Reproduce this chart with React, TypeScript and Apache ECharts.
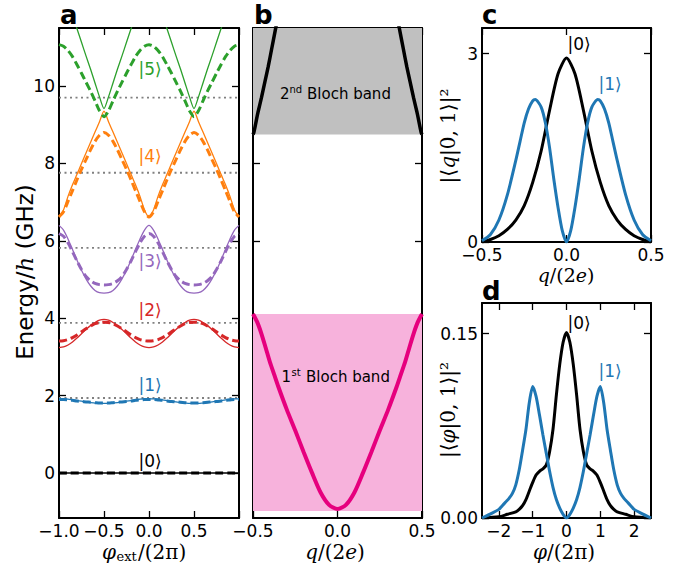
import React, { useEffect, useRef } from 'react';
import * as echarts from 'echarts';

// ---------- Panel a: energy levels vs external flux ----------
const aPhi = [-1, -0.95, -0.9, -0.85, -0.8, -0.75, -0.7, -0.65, -0.6, -0.55, -0.5, -0.45, -0.4, -0.35, -0.3, -0.25, -0.2, -0.15, -0.1, -0.05, 0, 0.05, 0.1, 0.15, 0.2, 0.25, 0.3, 0.35, 0.4, 0.45, 0.5, 0.55, 0.6, 0.65, 0.7, 0.75, 0.8, 0.85, 0.9, 0.95, 1];
const aEnds = [-1, 1];
const level0 = [0, 0];
const level1Solid = [1.92, 1.92, 1.91, 1.89, 1.87, 1.86, 1.84, 1.82, 1.81, 1.8, 1.8, 1.8, 1.81, 1.82, 1.84, 1.86, 1.87, 1.89, 1.91, 1.92, 1.92, 1.92, 1.91, 1.89, 1.87, 1.86, 1.84, 1.82, 1.81, 1.8, 1.8, 1.8, 1.81, 1.82, 1.84, 1.86, 1.87, 1.89, 1.91, 1.92, 1.92];
const level1Dashed = [1.9, 1.9, 1.89, 1.88, 1.86, 1.85, 1.84, 1.83, 1.82, 1.81, 1.81, 1.81, 1.82, 1.83, 1.84, 1.85, 1.86, 1.88, 1.89, 1.9, 1.9, 1.9, 1.89, 1.88, 1.86, 1.85, 1.84, 1.83, 1.82, 1.81, 1.81, 1.81, 1.82, 1.83, 1.84, 1.85, 1.86, 1.88, 1.89, 1.9, 1.9];
const level2Solid = [3.24, 3.26, 3.31, 3.39, 3.49, 3.6, 3.71, 3.81, 3.89, 3.95, 3.97, 3.95, 3.89, 3.81, 3.71, 3.6, 3.49, 3.39, 3.31, 3.26, 3.24, 3.26, 3.31, 3.39, 3.49, 3.6, 3.71, 3.81, 3.89, 3.95, 3.97, 3.95, 3.89, 3.81, 3.71, 3.6, 3.49, 3.39, 3.31, 3.26, 3.24];
const level2Dashed = [3.41, 3.42, 3.45, 3.5, 3.57, 3.65, 3.73, 3.8, 3.86, 3.89, 3.9, 3.89, 3.86, 3.8, 3.73, 3.65, 3.57, 3.5, 3.45, 3.42, 3.41, 3.42, 3.45, 3.5, 3.57, 3.65, 3.73, 3.8, 3.86, 3.89, 3.9, 3.89, 3.86, 3.8, 3.73, 3.65, 3.57, 3.5, 3.45, 3.42, 3.41];
const level3Solid = [6.4, 6.28, 6.05, 5.78, 5.5, 5.24, 5.02, 4.84, 4.72, 4.66, 4.65, 4.66, 4.72, 4.84, 5.02, 5.24, 5.5, 5.78, 6.05, 6.28, 6.4, 6.28, 6.05, 5.78, 5.5, 5.24, 5.02, 4.84, 4.72, 4.66, 4.65, 4.66, 4.72, 4.84, 5.02, 5.24, 5.5, 5.78, 6.05, 6.28, 6.4];
const level3Dashed = [6.19, 6.12, 5.95, 5.72, 5.48, 5.26, 5.08, 4.97, 4.9, 4.87, 4.86, 4.87, 4.9, 4.97, 5.08, 5.26, 5.48, 5.72, 5.95, 6.12, 6.19, 6.12, 5.95, 5.72, 5.48, 5.26, 5.08, 4.97, 4.9, 4.87, 4.86, 4.87, 4.9, 4.97, 5.08, 5.26, 5.48, 5.72, 5.95, 6.12, 6.19];
const level4Solid = [6.62, 6.8, 7.15, 7.45, 7.72, 8.0, 8.27, 8.54, 8.81, 9.08, 9.35, 9.08, 8.81, 8.54, 8.27, 8.0, 7.72, 7.45, 7.15, 6.8, 6.62, 6.8, 7.15, 7.45, 7.72, 8.0, 8.27, 8.54, 8.81, 9.08, 9.35, 9.08, 8.81, 8.54, 8.27, 8.0, 7.72, 7.45, 7.15, 6.8, 6.62];
const level4Dashed = [6.62, 6.75, 7.02, 7.3, 7.58, 7.85, 8.1, 8.35, 8.57, 8.73, 8.8, 8.73, 8.57, 8.35, 8.1, 7.85, 7.58, 7.3, 7.02, 6.75, 6.62, 6.75, 7.02, 7.3, 7.58, 7.85, 8.1, 8.35, 8.57, 8.73, 8.8, 8.73, 8.57, 8.35, 8.1, 7.85, 7.58, 7.3, 7.02, 6.75, 6.62];
const level5Solid = [12.5, 12.4, 12.15, 11.82, 11.48, 11.13, 10.78, 10.44, 10.08, 9.72, 9.42, 9.72, 10.08, 10.44, 10.78, 11.13, 11.48, 11.82, 12.15, 12.4, 12.5, 12.4, 12.15, 11.82, 11.48, 11.13, 10.78, 10.44, 10.08, 9.72, 9.42, 9.72, 10.08, 10.44, 10.78, 11.13, 11.48, 11.82, 12.15, 12.4, 12.5];
const level5Dashed = [11.07, 11.03, 10.92, 10.76, 10.55, 10.33, 10.1, 9.87, 9.62, 9.36, 9.21, 9.36, 9.62, 9.87, 10.1, 10.33, 10.55, 10.76, 10.92, 11.03, 11.07, 11.03, 10.92, 10.76, 10.55, 10.33, 10.1, 9.87, 9.62, 9.36, 9.21, 9.36, 9.62, 9.87, 10.1, 10.33, 10.55, 10.76, 10.92, 11.03, 11.07];
const harmonicLevels = [1.94, 3.88, 5.82, 7.76, 9.7];
const levelColors = ['#000000', '#1f77b4', '#d62728', '#9467bd', '#ff7f0e', '#2ca02c'];
const ketLabels = ['|0\u27E9', '|1\u27E9', '|2\u27E9', '|3\u27E9', '|4\u27E9', '|5\u27E9'];

// ---------- Panel b: Bloch bands ----------
const bQ1 = [-0.5, -0.475, -0.45, -0.425, -0.4, -0.375, -0.35, -0.3, -0.25, -0.2, -0.15, -0.1, -0.05, 0, 0.05, 0.1, 0.15, 0.2, 0.25, 0.3, 0.35, 0.375, 0.4, 0.425, 0.45, 0.475, 0.5];
const band1E = [4.11, 3.9, 3.6, 3.24, 2.87, 2.55, 2.23, 1.64, 1.1, 0.54, 0.0, -0.5, -0.82, -0.93, -0.82, -0.5, 0.0, 0.54, 1.1, 1.64, 2.23, 2.55, 2.87, 3.24, 3.6, 3.9, 4.11];
const bQ2Left = [-0.5, -0.495, -0.49, -0.48, -0.47, -0.45, -0.43, -0.41, -0.39, -0.37, -0.35, -0.33];
const bQ2Right = [0.5, 0.495, 0.49, 0.48, 0.47, 0.45, 0.43, 0.41, 0.39, 0.37, 0.35, 0.33];
const band2E = [8.75, 8.8, 8.9, 9.12, 9.33, 9.7, 10.1, 10.5, 10.95, 11.4, 11.85, 12.3];
const bandEdgesQ = [-0.5, 0.5];
const band1Bottom = -0.98;
const band1Top = 4.11;
const band2Bottom = 8.75;

// ---------- Panel c: charge-basis wavefunctions ----------
const cQ0 = [-0.5, -0.45, -0.4, -0.35, -0.3, -0.25, -0.2, -0.15, -0.1, -0.05, 0, 0.05, 0.1, 0.15, 0.2, 0.25, 0.3, 0.35, 0.4, 0.45, 0.5];
const cP0 = [0, 0.04, 0.1, 0.2, 0.35, 0.58, 0.95, 1.45, 2.1, 2.68, 2.93, 2.68, 2.1, 1.45, 0.95, 0.58, 0.35, 0.2, 0.1, 0.04, 0];
const cQ1 = [-0.5, -0.45, -0.4, -0.35, -0.3, -0.275, -0.25, -0.225, -0.2, -0.185, -0.15, -0.125, -0.1, -0.075, -0.05, -0.025, 0, 0.025, 0.05, 0.075, 0.1, 0.125, 0.15, 0.185, 0.2, 0.225, 0.25, 0.275, 0.3, 0.35, 0.4, 0.45, 0.5];
const cP1 = [0.02, 0.12, 0.35, 0.75, 1.3, 1.6, 1.9, 2.12, 2.25, 2.27, 2.15, 1.9, 1.5, 1.0, 0.55, 0.18, 0, 0.18, 0.55, 1.0, 1.5, 1.9, 2.15, 2.27, 2.25, 2.12, 1.9, 1.6, 1.3, 0.75, 0.35, 0.12, 0.02];

// ---------- Panel d: phase-basis wavefunctions ----------
const dPhi0 = [-2.5, -2, -1.75, -1.5, -1.4, -1.3, -1.2, -1.1, -1, -0.9, -0.8, -0.7, -0.6, -0.5, -0.4, -0.3, -0.2, -0.1, 0, 0.1, 0.2, 0.3, 0.4, 0.5, 0.6, 0.7, 0.8, 0.9, 1, 1.1, 1.2, 1.3, 1.4, 1.5, 1.75, 2, 2.5];
const dP0 = [0, 0.001, 0.003, 0.005, 0.007, 0.01, 0.015, 0.022, 0.029, 0.035, 0.038, 0.04, 0.043, 0.054, 0.072, 0.1, 0.125, 0.143, 0.151, 0.143, 0.125, 0.1, 0.072, 0.054, 0.043, 0.04, 0.038, 0.035, 0.029, 0.022, 0.015, 0.01, 0.007, 0.005, 0.003, 0.001, 0];
const dPhi1 = [-2.5, -2.2, -2, -1.9, -1.8, -1.7, -1.6, -1.5, -1.4, -1.3, -1.2, -1.1, -1, -0.9, -0.8, -0.7, -0.6, -0.5, -0.4, -0.3, -0.2, -0.1, 0, 0.1, 0.2, 0.3, 0.4, 0.5, 0.6, 0.7, 0.8, 0.9, 1, 1.1, 1.2, 1.3, 1.4, 1.5, 1.6, 1.7, 1.8, 1.9, 2, 2.2, 2.5];
const dP1 = [0, 0.004, 0.007, 0.01, 0.013, 0.016, 0.02, 0.027, 0.039, 0.055, 0.072, 0.094, 0.107, 0.099, 0.084, 0.068, 0.053, 0.038, 0.025, 0.015, 0.008, 0.003, 0, 0.003, 0.008, 0.015, 0.025, 0.038, 0.053, 0.068, 0.084, 0.099, 0.107, 0.094, 0.072, 0.055, 0.039, 0.027, 0.02, 0.016, 0.013, 0.01, 0.007, 0.004, 0];

// ---------- ticks ----------
const aXTicks = [-1, -0.5, 0, 0.5, 1];
const aXLabels = [-1, -0.5, 0, 0.5];
const energyTicks = [0, 2, 4, 6, 8, 10];
const qTicks = [-0.5, 0, 0.5];
const cYTicks = [0, 3];
const dXTicks = [-2, -1, 0, 1, 2];
const dYTicks = [0, 0.15];

const SANS = "'DejaVu Sans', sans-serif";
const MATH = "'DejaVu Serif', serif";
const BLUE = '#1f77b4';

const zip = (xs: number[], ys: number[]) => xs.map((x, i) => [x, ys[i]]);
const minus = (s: string) => s.replace('-', '\u2212');
const fmt1 = (v: number) => (Math.abs(v) < 1e-9 ? '0.0' : minus(v.toFixed(1)));
const fmt0 = (v: number) => (Math.abs(v) < 1e-9 ? '0' : minus(v.toFixed(0)));
const fmt2 = (v: number) => minus(v.toFixed(2));

function mkAxis(grid: number, pos: string, min: number, max: number, ticks: number[], labels: number[] | null, fmt?: (v: number) => string) {
  return {
    type: 'value',
    gridIndex: grid,
    position: pos,
    min,
    max,
    axisLine: { show: true, onZero: false, lineStyle: { color: '#000', width: 2 } },
    axisTick: { show: true, inside: true, length: 7, lineStyle: { color: '#000', width: 1.3 }, customValues: ticks },
    axisLabel: labels
      ? { show: true, customValues: labels, formatter: fmt, fontSize: 17, color: '#000', fontFamily: SANS, margin: 4 }
      : { show: false },
    splitLine: { show: false },
  };
}

function line(xi: number, data: number[][], color: string, width: number, dashed: boolean, z = 3) {
  return {
    type: 'line',
    xAxisIndex: xi,
    yAxisIndex: xi,
    data,
    showSymbol: false,
    symbol: 'none',
    smooth: 0.25,
    silent: true,
    clip: true,
    z,
    lineStyle: { color, width, type: dashed ? [8, 4] : 'solid' },
  };
}

function txt(x: number, y: number, text: string, o: any = {}) {
  return {
    type: 'text',
    x,
    y,
    rotation: o.rot || 0,
    silent: true,
    z: 100,
    style: {
      text,
      fill: o.color || '#000',
      fontSize: o.size || 17,
      fontFamily: o.family || SANS,
      fontWeight: o.weight || 'normal',
      fontStyle: o.style || 'normal',
      align: o.align || 'center',
      textAlign: o.align || 'center',
      verticalAlign: 'middle',
      textVerticalAlign: 'middle',
      rich: o.rich,
    },
  };
}

const mathRich = (size: number) => ({
  n: { fontSize: size, fontFamily: MATH, fill: '#000' },
  i: { fontSize: size, fontFamily: MATH, fontStyle: 'italic', fill: '#000' },
});

export default function App() {
  const ref = useRef<HTMLDivElement>(null);
  useEffect(() => {
    document.body.style.margin = '0';
    if (!ref.current) return;
    const chart = echarts.init(ref.current, undefined, { renderer: 'svg' });

    const aSolid = [null, level1Solid, level2Solid, level3Solid, level4Solid, level5Solid];
    const aDashed = [null, level1Dashed, level2Dashed, level3Dashed, level4Dashed, level5Dashed];

    const series: any[] = [];
    harmonicLevels.forEach((lv) => {
      series.push({
        type: 'line', xAxisIndex: 0, yAxisIndex: 0, data: zip(aEnds, [lv, lv]), showSymbol: false, symbol: 'none', silent: true, z: 2,
        lineStyle: { color: '#808080', width: 1.8, type: [2, 3.5] },
      });
    });
    series.push(line(0, zip(aEnds, level0), '#000', 1.5, false));
    series.push(line(0, zip(aEnds, level0), '#000', 3, true));
    for (let k = 1; k <= 5; k++) {
      series.push(line(0, zip(aPhi, aSolid[k] as number[]), levelColors[k], 1.3, false));
      series.push(line(0, zip(aPhi, aDashed[k] as number[]), levelColors[k], 3, true));
    }

    // panel b fills
    series.push({
      type: 'line', xAxisIndex: 2, yAxisIndex: 2, data: zip(bandEdgesQ, [band1Top, band1Top]), showSymbol: false, symbol: 'none', silent: true, z: 1,
      lineStyle: { width: 0, opacity: 0 }, areaStyle: { color: '#f7b2dc', opacity: 1, origin: band1Bottom },
    });
    series.push({
      type: 'line', xAxisIndex: 2, yAxisIndex: 2, data: zip(bandEdgesQ, [11.5, 11.5]), showSymbol: false, symbol: 'none', silent: true, z: 1,
      lineStyle: { width: 0, opacity: 0 }, areaStyle: { color: '#c0c0c0', opacity: 1, origin: band2Bottom },
    });
    series.push(line(2, zip(bQ1, band1E), '#e6007e', 4, false));
    series.push(line(2, zip(bQ2Left, band2E), '#000', 3.5, false));
    series.push(line(2, zip(bQ2Right, band2E), '#000', 3.5, false));

    // panel c
    series.push(line(4, zip(cQ0, cP0), '#000', 3, false));
    series.push(line(4, zip(cQ1, cP1), BLUE, 3, false));
    // panel d
    series.push(line(6, zip(dPhi0, dP0), '#000', 3, false));
    series.push(line(6, zip(dPhi1, dP1), BLUE, 3, false));

    const kets = [
      { x: 150, y: 461 }, { x: 150, y: 385 }, { x: 150, y: 310 }, { x: 150, y: 261 }, { x: 150, y: 156 }, { x: 150, y: 69 },
    ];

    const graphics: any[] = [
      txt(60, 15, 'a', { size: 26, weight: 'bold', align: 'left' }),
      txt(254, 15, 'b', { size: 26, weight: 'bold', align: 'left' }),
      txt(482, 15, 'c', { size: 26, weight: 'bold', align: 'left' }),
      txt(482, 291, 'd', { size: 26, weight: 'bold', align: 'left' }),
      ...kets.map((p, i) => txt(p.x, p.y, ketLabels[i], { color: levelColors[i], size: 17 })),
      txt(579, 44, ketLabels[0], { size: 17 }),
      txt(610, 84, ketLabels[1], { size: 17, color: BLUE }),
      txt(579, 323, ketLabels[0], { size: 17 }),
      txt(610, 371, ketLabels[1], { size: 17, color: BLUE }),
      // y label a
      txt(25, 272, '{n|Energy/}{i|h}{n| (GHz)}', {
        rot: Math.PI / 2,
        rich: {
          n: { fontSize: 23, fontFamily: SANS, fill: '#000' },
          i: { fontSize: 23, fontFamily: MATH, fontStyle: 'italic', fill: '#000' },
        },
      }),
      // x label a
      txt(102, 552, '\u03C6', { family: MATH, style: 'italic', size: 20, align: 'left' }),
      txt(116.5, 556, 'ext', { family: MATH, size: 13, align: 'left' }),
      txt(138, 552, '/(2\u03C0)', { family: MATH, size: 20, align: 'left' }),
      // x label b, c
      txt(335, 552, '{i|q}{n|/(2}{i|e}{n|)}', { rich: mathRich(20) }),
      txt(566, 275, '{i|q}{n|/(2}{i|e}{n|)}', { rich: mathRich(19) }),
      // x label d
      txt(564, 552, '{i|\u03C6}{n|/(2\u03C0)}', { rich: mathRich(20) }),
      // y labels c, d
      txt(448, 136, '{n||\u27E8}{i|q}{n||0, 1\u27E9|\u00B2}', { rot: Math.PI / 2, rich: mathRich(20) }),
      txt(448, 410, '{n||\u27E8}{i|\u03C6}{n||0, 1\u27E9|\u00B2}', { rot: Math.PI / 2, rich: mathRich(20) }),
      // Bloch band labels
      txt(280, 93.5, '2', { size: 15, align: 'left' }),
      txt(289.5, 89.5, 'nd', { size: 10, align: 'left' }),
      txt(307, 93.5, 'Bloch band', { size: 15, align: 'left' }),
      txt(281.5, 376.5, '1', { size: 15, align: 'left' }),
      txt(291.5, 372.5, 'st', { size: 10, align: 'left' }),
      txt(306, 376.5, 'Bloch band', { size: 15, align: 'left' }),
    ];

    const option: any = {
      animation: false,
      backgroundColor: '#fff',
      grid: [
        { left: 59, top: 28, width: 180, height: 490 },
        { left: 253, top: 28, width: 169, height: 490 },
        { left: 482, top: 28, width: 169, height: 214 },
        { left: 482, top: 303, width: 169, height: 215 },
      ],
      xAxis: [
        mkAxis(0, 'bottom', -1, 1, aXTicks, aXLabels, fmt1),
        mkAxis(0, 'top', -1, 1, aXTicks, null),
        mkAxis(1, 'bottom', -0.5, 0.5, qTicks, qTicks, fmt1),
        mkAxis(1, 'top', -0.5, 0.5, qTicks, null),
        mkAxis(2, 'bottom', -0.5, 0.5, qTicks, qTicks, fmt1),
        mkAxis(2, 'top', -0.5, 0.5, qTicks, null),
        mkAxis(3, 'bottom', -2.5, 2.5, dXTicks, dXTicks, fmt0),
        mkAxis(3, 'top', -2.5, 2.5, dXTicks, null),
      ],
      yAxis: [
        mkAxis(0, 'left', -1.16, 11.5, energyTicks, energyTicks, fmt0),
        mkAxis(0, 'right', -1.16, 11.5, energyTicks, null),
        mkAxis(1, 'left', -1.16, 11.5, energyTicks, null),
        mkAxis(1, 'right', -1.16, 11.5, energyTicks, null),
        mkAxis(2, 'left', 0, 3.41, cYTicks, cYTicks, fmt0),
        mkAxis(2, 'right', 0, 3.41, cYTicks, null),
        mkAxis(3, 'left', 0, 0.175, dYTicks, dYTicks, fmt2),
        mkAxis(3, 'right', 0, 0.175, dYTicks, null),
      ],
      series,
      graphic: graphics,
    };
    chart.setOption(option);
    return () => chart.dispose();
  }, []);
  return <div ref={ref} style={{ width: 684, height: 565 }} />;
}
